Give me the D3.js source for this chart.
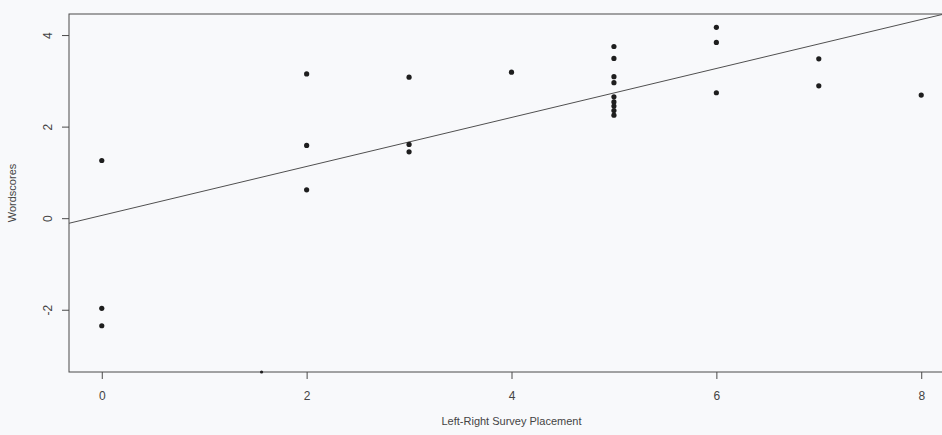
<!DOCTYPE html>
<html>
<head>
<meta charset="utf-8">
<script src="https://cdn.jsdelivr.net/npm/d3@7"></script>
<style>
  body { margin: 0; background: #f8f9fb; }
  svg { display: block; font-family: "Liberation Sans", Arial, sans-serif; }
</style>
</head>
<body>
<div id="chart"></div>
<script>
// survey placement (x) and wordscore (y) for each party
const placement = [0, 0, 0, 2, 2, 2, 3, 3, 3, 4, 5, 5, 5, 5, 5, 5, 5, 5, 5, 6, 6, 6, 7, 7, 8, 1.56];
const wordscore = [1.26, -1.97, -2.35, 3.15, 1.59, 0.62, 3.08, 1.61, 1.45, 3.19,
    3.75, 3.49, 3.09, 2.96, 2.65, 2.54, 2.45, 2.35, 2.25, 4.17, 3.84, 2.74, 3.48, 2.89, 2.69, -3.36];
const pointSize = [2.6, 2.6, 2.6, 2.6, 2.6, 2.6, 2.6, 2.6, 2.6, 2.6, 2.6, 2.6, 2.6, 2.6, 2.6,
    2.6, 2.6, 2.6, 2.6, 2.6, 2.6, 2.6, 2.6, 2.6, 2.6, 1.6];

// fitted line: intercept, slope
const fit = [0.06, 0.535];

const xTicks = [0, 2, 4, 6, 8];
const yTicks = [-2, 0, 2, 4];

const width = 942, height = 435;
const margin = { top: 14, right: -12, bottom: 63, left: 69 };

const svg = d3.select('#chart').append('svg')
    .attr('width', width)
    .attr('height', height);

const x = d3.scaleLinear()
    .domain([-0.32, 8.32])
    .range([margin.left, width - margin.right]);

const y = d3.scaleLinear()
    .domain([-3.36, 4.46])
    .range([height - margin.bottom, margin.top]);

const g = svg.append('g');

// frame
g.append('rect')
    .attr('x', x.range()[0])
    .attr('y', y.range()[1])
    .attr('width', x.range()[1] - x.range()[0])
    .attr('height', y.range()[0] - y.range()[1])
    .attr('fill', 'none')
    .attr('stroke', '#4a4a4a')
    .attr('stroke-width', 1);

const xAxis = g.append('g')
    .attr('transform', `translate(0,${y.range()[0]})`)
    .call(d3.axisBottom(x).tickValues(xTicks).tickSize(7).tickPadding(12).tickFormat((d) => String(d)));

const yAxis = g.append('g')
    .attr('transform', `translate(${x.range()[0]},0)`)
    .call(d3.axisLeft(y).tickValues(yTicks).tickSize(7).tickPadding(0).tickFormat((d) => String(d)));

[xAxis, yAxis].forEach((a) => {
    a.select('.domain').remove();
    a.selectAll('line').attr('stroke', '#4a4a4a');
    a.selectAll('text')
        .attr('fill', '#444')
        .attr('font-size', '12px')
        .attr('font-family', '"Liberation Sans", Arial, sans-serif');
});

// R style: y tick labels rotated
yAxis.selectAll('.tick text')
    .attr('x', null)
    .attr('text-anchor', 'middle')
    .attr('transform', 'translate(-21,0) rotate(-90)')
    .attr('dy', '0.35em');

// regression line clipped to plot region
svg.append('clipPath').attr('id', 'plotclip')
    .append('rect')
    .attr('x', x.range()[0])
    .attr('y', y.range()[1])
    .attr('width', x.range()[1] - x.range()[0])
    .attr('height', y.range()[0] - y.range()[1]);

const xd = x.domain();
g.append('line')
    .attr('clip-path', 'url(#plotclip)')
    .attr('x1', x(xd[0]))
    .attr('y1', y(fit[0] + fit[1] * xd[0]))
    .attr('x2', x(xd[1]))
    .attr('y2', y(fit[0] + fit[1] * xd[1]))
    .attr('stroke', '#505050')
    .attr('stroke-width', 1);

g.selectAll('circle')
    .data(placement)
    .enter()
    .append('circle')
    .attr('cx', (d) => x(d))
    .attr('cy', (d, i) => y(wordscore[i]))
    .attr('r', (d, i) => pointSize[i])
    .attr('fill', '#1e1e1e');

// axis titles
svg.append('text')
    .attr('x', (x.range()[0] + x.range()[1]) / 2)
    .attr('y', 425)
    .attr('text-anchor', 'middle')
    .attr('font-size', '11px')
    .attr('fill', '#444')
    .text('Left-Right Survey Placement');

svg.append('text')
    .attr('transform', `translate(16,${(y.range()[0] + y.range()[1]) / 2}) rotate(-90)`)
    .attr('text-anchor', 'middle')
    .attr('font-size', '11px')
    .attr('fill', '#444')
    .text('Wordscores');
</script>
</body>
</html>
